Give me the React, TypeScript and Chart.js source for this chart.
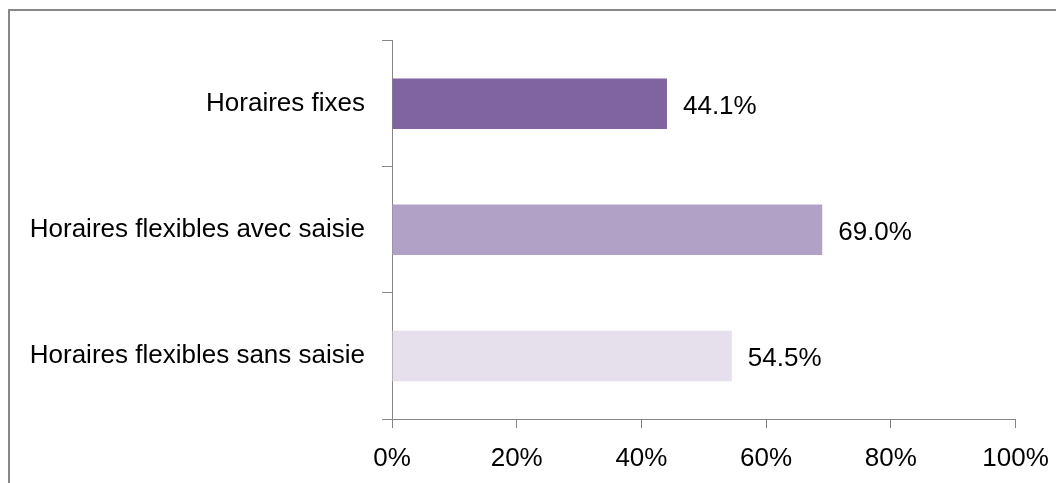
import React, { useEffect, useRef } from 'react';
import { Chart, registerables } from 'chart.js';

Chart.register(...registerables);

const categories = ['Horaires fixes', 'Horaires flexibles avec saisie', 'Horaires flexibles sans saisie'];
const values = [44.1, 69.0, 54.5];
const barColors = ['#8064A2', '#B2A1C7', '#E5E0EC'];
const xTickStep = 20;
const xMin = 0;
const xMax = 100;

const FONT = { family: '"Liberation Sans"', size: 26 };
const AXIS_GRAY = '#868686';

const framePlugin = {
  id: 'frame',
  beforeDraw(chart: any) {
    const ctx = chart.ctx;
    ctx.save();
    ctx.fillStyle = '#878787';
    ctx.fillRect(0, 1, 2, chart.height);
    ctx.fillRect(0, 1, chart.width, 2);
    ctx.restore();
  },
};

const valueLabelPlugin = {
  id: 'valueLabels',
  afterDatasetsDraw(chart: any) {
    const ctx = chart.ctx;
    const meta = chart.getDatasetMeta(0);
    ctx.save();
    ctx.font = `${FONT.size}px ${FONT.family}`;
    ctx.fillStyle = '#000';
    ctx.textAlign = 'left';
    ctx.textBaseline = 'middle';
    meta.data.forEach((bar: any, i: number) => {
      ctx.fillText(values[i].toFixed(1) + '%', bar.x + 16, bar.y + 3);
    });
    ctx.restore();
  },
};

export default function App() {
  const ref = useRef<HTMLCanvasElement | null>(null);
  useEffect(() => {
    document.documentElement.style.overflow = 'hidden';
    if (!ref.current) return;
    const chart = new Chart(ref.current, {
      type: 'bar',
      data: {
        labels: categories,
        datasets: [
          {
            data: values,
            backgroundColor: barColors,
            barPercentage: 0.8,
            categoryPercentage: 0.5,
          },
        ],
      },
      options: {
        indexAxis: 'y',
        animation: false,
        responsive: true,
        maintainAspectRatio: false,
        layout: { padding: { top: 31, right: 48.5, left: 0, bottom: 0 } },
        plugins: { legend: { display: false }, tooltip: { enabled: false } },
        scales: {
          x: {
            min: xMin,
            max: xMax,
            ticks: {
              stepSize: xTickStep,
              callback: (v: any) => v + '%',
              font: FONT,
              color: '#000',
              padding: 15,
              maxRotation: 0,
            },
            grid: { drawOnChartArea: false, drawTicks: true, tickLength: 9, color: AXIS_GRAY },
            border: { color: AXIS_GRAY, width: 1 },
            afterFit: (s: any) => {
              s.height = 64;
            },
          },
          y: {
            ticks: { font: FONT, color: '#000', padding: 17 },
            grid: { offset: true, drawOnChartArea: false, drawTicks: true, tickLength: 10, color: AXIS_GRAY },
            border: { color: AXIS_GRAY, width: 1 },
            afterFit: (s: any) => {
              s.width = 384;
            },
          },
        },
      },
      plugins: [framePlugin, valueLabelPlugin],
    });
    return () => chart.destroy();
  }, []);
  return (
    <div style={{ position: 'relative', width: 1056, height: 475 }}>
      <canvas ref={ref} />
    </div>
  );
}
